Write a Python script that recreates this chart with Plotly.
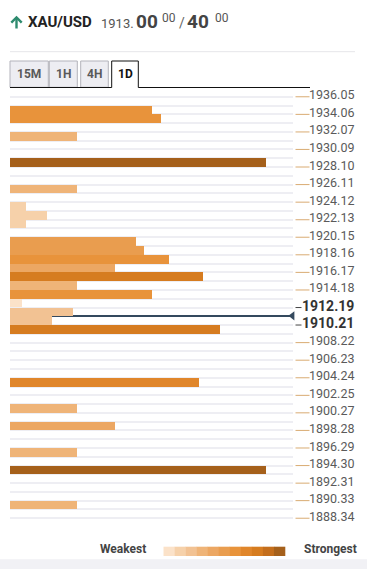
import plotly.graph_objects as go

# ---------------- data ----------------
tick_labels = ["1936.05", "1934.06", "1932.07", "1930.09", "1928.10", "1926.11",
               "1924.12", "1922.13", "1920.15", "1918.16", "1916.17", "1914.18",
               "1912.19", "1910.21", "1908.22", "1906.23", "1904.24", "1902.25",
               "1900.27", "1898.28", "1896.29", "1894.30", "1892.31", "1890.33",
               "1888.34"]
bold_labels = ["1912.19", "1910.21"]

bar_prices = [1934.06, 1933.07, 1931.08, 1928.10, 1925.12, 1923.13, 1922.14,
              1921.14, 1919.15, 1918.16, 1917.17, 1916.17, 1915.18, 1914.18,
              1913.19, 1912.20, 1911.20, 1910.21, 1909.21, 1903.25, 1900.27,
              1898.28, 1895.30, 1893.31, 1889.33]
bar_strength = [142, 151, 67, 256, 67, 16, 37, 16, 126, 134, 159, 105, 193, 67,
                142, 12, 63, 42, 210, 189, 67, 105, 67, 256, 67]
bar_level = [6, 6, 3, 10, 3, 1, 1, 1, 5, 5, 6, 4, 8, 3, 6, 0, 2, 2, 8, 7, 3, 4,
             3, 10, 3]
current_price = 1910.76
strength_max = 283

symbol = "XAU/USD"
bid_main, bid_big, bid_sup = "1913.", "00", "00"
ask_big, ask_sup = "40", "00"
tabs = ["15M", "1H", "4H", "1D"]
legend_left, legend_right = "Weakest", "Strongest"

# ---------------- style ----------------
palette = ["#fbe2c9", "#f6d1aa", "#f2c293", "#efb478", "#eca763", "#e99d4f",
           "#e8933b", "#e0862b", "#d67c20", "#c46e1c", "#a5601b"]
W, H = 367, 569
L, R, T, B = 10, 74, 88, 42
PW, PH = W - L - R, H - T - B


def px(x):
    return (x - L) / PW


def py(y):
    return (H - B - y) / PH


tick_vals = [float(t) for t in tick_labels]
step = (tick_vals[0] - tick_vals[-1]) / (2 * (len(tick_vals) - 1))
y_top = tick_vals[0] + step / 2
y_bot = tick_vals[-1] - step * 1.5
n_rows = int(round((y_top - y_bot) / step))
boundaries = [y_top - k * step for k in range(n_rows + 1)]
px_per_price = PH / (y_top - y_bot)

fig = go.Figure()
# current price line (drawn first so bars cover it)
fig.add_bar(orientation="h", y=[current_price], x=[strength_max - 1.5],
            width=1.1 / px_per_price, marker=dict(color="#34495e", line=dict(width=0)),
            hoverinfo="skip", showlegend=False)
fig.add_bar(orientation="h", y=bar_prices, x=bar_strength, width=step,
            marker=dict(color=[palette[l] for l in bar_level], line=dict(width=0)),
            showlegend=False)
fig.add_scatter(x=[strength_max - 0.6], y=[current_price], mode="markers",
                marker=dict(symbol="triangle-left", size=8, color="#34495e"),
                cliponaxis=False, showlegend=False, hoverinfo="skip")

shapes = []
ann = []

# header
shapes.append(dict(type="line", xref="paper", yref="paper", x0=px(10), x1=px(355),
                   y0=py(51.7), y1=py(51.7), line=dict(color="#e6e6e9", width=1)))
# up arrow
arrow_col = "#2e8b6f"
shapes.append(dict(type="line", xref="paper", yref="paper", x0=px(16.5), x1=px(16.5),
                   y0=py(28.5), y1=py(17.5), line=dict(color=arrow_col, width=2.4)))
shapes.append(dict(type="path", xref="paper", yref="paper",
                   path="M %f %f L %f %f L %f %f" % (px(11.3), py(22.6), px(16.5), py(17.4),
                                                     px(21.7), py(22.6)),
                   line=dict(color=arrow_col, width=2.4)))


def text(x, y, s, size, color, bold=False, anchor="left", family="Roboto"):
    ann.append(dict(xref="paper", yref="paper", x=px(x), y=py(y), text=("<b>%s</b>" % s) if bold else s,
                    showarrow=False, xanchor=anchor, yanchor="middle", borderpad=0,
                    font=dict(family=family, size=size, color=color)))


text(27, 21.5, symbol, 15, "#222222", bold=True)
text(99.5, 23.5, bid_main, 13, "#555555")
text(135, 21.5, bid_big, 19, "#444444", bold=True)
text(160.5, 17.5, bid_sup, 12, "#555555")
text(178, 23, "/", 14, "#666666")
text(186, 21.5, ask_big, 19, "#444444", bold=True)
text(214, 17.5, ask_sup, 12, "#555555")

# tabs
tab_x = [(10, 48.3), (49.3, 77.3), (80.7, 108.3), (111.7, 138.3)]
for i, (name, (a, b)) in enumerate(zip(tabs, tab_x)):
    active = i == len(tabs) - 1
    if not active:
        shapes.append(dict(type="rect", xref="paper", yref="paper", x0=px(a), x1=px(b),
                           y0=py(87.3), y1=py(61), fillcolor="#ededf2",
                           line=dict(color="#b3b3bb", width=1)))
    else:
        shapes.append(dict(type="path", xref="paper", yref="paper",
                           path="M %f %f L %f %f L %f %f L %f %f" % (px(a), py(87.5), px(a), py(61),
                                                                     px(b), py(61), px(b), py(87.5)),
                           line=dict(color="#111111", width=1)))
    text((a + b) / 2, 74.5, name, 12, "#111111" if active else "#5a5a5a", bold=True, anchor="center")
shapes.append(dict(type="line", xref="paper", yref="paper", x0=px(10), x1=px(111.7),
                   y0=py(87.5), y1=py(87.5), line=dict(color="#111111", width=1)))
shapes.append(dict(type="line", xref="paper", yref="paper", x0=px(138.3), x1=px(310),
                   y0=py(87.5), y1=py(87.5), line=dict(color="#111111", width=1)))

# axis labels with underline marks
for lab, v in zip(tick_labels, tick_vals):
    bold = lab in bold_labels
    ann.append(dict(xref="paper", yref="y", x=px(355), y=v - 2.4 / px_per_price,
                    text=("<b>%s</b>" % lab) if bold else lab, showarrow=False,
                    xanchor="right", yanchor="middle", borderpad=0,
                    font=dict(family="Roboto", size=14 if bold else 12.5,
                              color="#333333" if bold else "#5a5a5a")))
    shapes.append(dict(type="line", xref="paper", yref="y", x0=px(295.5),
                       x1=px(301.5 if bold else 309.5),
                       y0=v - step / 2, y1=v - step / 2,
                       line=dict(color="#444444" if bold else "#d9ab72", width=1)))

# legend
lx0, lx1 = 163.5, 285
bw = (lx1 - lx0) / len(palette)
for i, c in enumerate(palette):
    shapes.append(dict(type="rect", xref="paper", yref="paper", x0=px(lx0 + i * bw),
                       x1=px(lx0 + (i + 1) * bw + 0.3), y0=py(556), y1=py(546.7),
                       fillcolor=c, line=dict(width=0)))
text(146.5, 548.5, legend_left, 12, "#444444", bold=True, anchor="right")
text(302.5, 548.5, legend_right, 12, "#444444", bold=True, anchor="left")
shapes.append(dict(type="rect", xref="paper", yref="paper", x0=px(0), x1=px(W),
                   y0=py(H + 2), y1=py(559.3), fillcolor="#f1f1f5", line=dict(width=0),
                   layer="below"))

fig.update_layout(
    width=W, height=H, autosize=False,
    margin=dict(l=L, r=R, t=T, b=B, pad=0),
    paper_bgcolor="white", plot_bgcolor="white",
    barmode="overlay", bargap=0,
    showlegend=False,
    xaxis=dict(range=[0, strength_max], visible=False, fixedrange=True),
    yaxis=dict(range=[y_bot, y_top], showgrid=False, zeroline=False,
               showticklabels=False, ticks="", tickmode="array", tickvals=[],
               fixedrange=True,
               minor=dict(tickmode="array", tickvals=boundaries, showgrid=True,
                          gridcolor="#eeeef3", gridwidth=2, ticks="")),
    shapes=shapes, annotations=ann,
)

fig.write_html("out.html", config={"displayModeBar": False},
               post_script="document.body.style.margin='0';document.body.style.overflow='hidden';")
